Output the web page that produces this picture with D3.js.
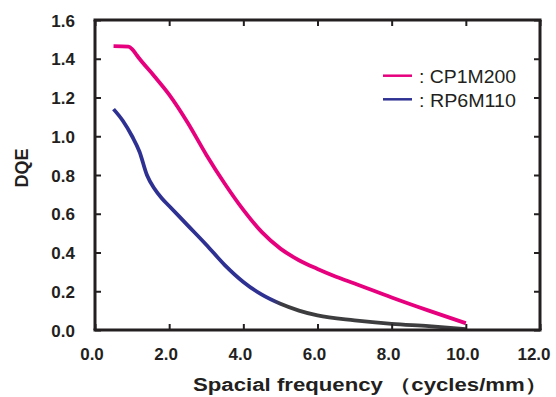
<!DOCTYPE html>
<html><head><meta charset="utf-8">
<script src="https://cdn.jsdelivr.net/npm/d3@7"></script>
<style>body{margin:0;background:#fff}svg{display:block}</style>
</head><body>
<script>
const xTicks = [0, 2, 4, 6, 8, 10, 12];
const yTicks = [0, 0.2, 0.4, 0.6, 0.8, 1.0, 1.2, 1.4, 1.6];
const cpX = [0.5, 0.9, 1.0, 1.1, 1.2, 1.6, 2.0, 2.5, 3.0, 3.5, 4.0, 4.5, 5.0, 5.5, 6.0, 6.5, 7.0, 8.0, 9.0, 10.0];
const cpY = [1.465, 1.463, 1.45, 1.425, 1.40, 1.31, 1.215, 1.07, 0.905, 0.755, 0.62, 0.505, 0.42, 0.36, 0.315, 0.275, 0.24, 0.168, 0.10, 0.035];
const rpX = [0.5, 0.75, 1.0, 1.2, 1.4, 1.6, 1.8, 2.0, 2.5, 3.0, 3.5, 4.0, 4.5, 5.0, 5.5, 6.0, 7.0, 8.0, 9.0, 10.0];
const rpY = [1.14, 1.08, 1.00, 0.92, 0.80, 0.73, 0.68, 0.64, 0.54, 0.44, 0.335, 0.248, 0.182, 0.135, 0.10, 0.075, 0.05, 0.032, 0.02, 0.005];
const seriesNames = [": CP1M200", ": RP6M110"];
const colors = ["#e6007e", "#2e3192"];
const tailColor = "#3d3d3f";

(function () {
const W = 556, H = 397;
const svg = d3.select("body").append("svg").attr("width", W).attr("height", H);
const x = d3.scaleLinear().domain([0, 12]).range([95, 540]);
const y = d3.scaleLinear().domain([0, 1.6]).range([330, 20]);
const axisCol = "#231f20";
const font = "'Liberation Sans', Arial, sans-serif";

const defs = svg.append("defs");
const g = defs.append("linearGradient").attr("id", "rpGrad")
  .attr("gradientUnits", "userSpaceOnUse")
  .attr("x1", x(0)).attr("x2", x(12)).attr("y1", 0).attr("y2", 0);
g.append("stop").attr("offset", (4.75 / 12)).attr("stop-color", colors[1]);
g.append("stop").attr("offset", (5.05 / 12)).attr("stop-color", tailColor);

const line = d3.line().x(d => x(d[0])).y(d => y(d[1])).curve(d3.curveMonotoneX);
svg.append("path").datum(rpX.map((v, i) => [v, rpY[i]]))
  .attr("d", line).attr("fill", "none").attr("stroke", "url(#rpGrad)")
  .attr("stroke-width", 3.8).attr("stroke-linecap", "butt");
svg.append("path").datum(cpX.map((v, i) => [v, cpY[i]]))
  .attr("d", line).attr("fill", "none").attr("stroke", colors[0])
  .attr("stroke-width", 3.8).attr("stroke-linecap", "butt");

const tl = 6;
const axB = svg.append("g").attr("transform", `translate(0,${y(0)})`)
  .call(d3.axisBottom(x).tickValues(xTicks).tickSize(-tl).tickPadding(18).tickFormat(d3.format(".1f")));
const axT = svg.append("g").attr("transform", `translate(0,${y(1.6)})`)
  .call(d3.axisTop(x).tickValues(xTicks).tickSize(-tl).tickFormat(""));
const axL = svg.append("g").attr("transform", `translate(${x(0)},0)`)
  .call(d3.axisLeft(y).tickValues(yTicks).tickSize(-tl).tickPadding(20).tickFormat(d3.format(".1f")));
const axR = svg.append("g").attr("transform", `translate(${x(12)},0)`)
  .call(d3.axisRight(y).tickValues(yTicks).tickSize(-tl).tickFormat(""));
[axB, axT, axL, axR].forEach(a => {
  a.select(".domain").attr("stroke", axisCol).attr("stroke-width", 3);
  a.selectAll(".tick line").attr("stroke", axisCol).attr("stroke-width", 2);
  a.selectAll("text").attr("fill", "#231f20").attr("font-family", font)
    .attr("font-weight", "bold").attr("font-size", 17);
});
axB.select(".domain").attr("d", `M${x(0)-1.5},0H${x(12)+1.5}`);
axT.select(".domain").attr("d", `M${x(0)-1.5},0H${x(12)+1.5}`);
axL.select(".domain").attr("d", `M0,${y(0)}V${y(1.6)}`);
axR.select(".domain").attr("d", `M0,${y(0)}V${y(1.6)}`);
axB.selectAll(".tick text").attr("dx", d => d === 12 ? -6.5 : -3.5);
axL.selectAll(".tick text").attr("dy", "0.36em");

svg.append("text").attr("x", 193).attr("y", 391).attr("text-anchor", "start")
  .attr("font-family", font).attr("font-weight", "bold").attr("font-size", 18).attr("fill", "#231f20")
  .attr("textLength", 354).attr("lengthAdjust", "spacingAndGlyphs")
  .text("Spacial frequency （cycles/mm）");
svg.append("text").attr("transform", `translate(28,168) rotate(-90)`).attr("text-anchor", "middle")
  .attr("font-family", font).attr("font-weight", "bold").attr("font-size", 18).attr("fill", "#231f20")
  .text("DQE");

const leg = svg.append("g");
seriesNames.forEach((n, i) => {
  const yy = 75.7 + i * 23.6;
  leg.append("line").attr("x1", 383).attr("x2", 412).attr("y1", yy).attr("y2", yy)
    .attr("stroke", colors[i]).attr("stroke-width", 2.5);
  leg.append("text").attr("x", 419).attr("y", yy + 7.6).attr("font-family", font)
    .attr("font-size", 18).attr("fill", "#231f20")
    .attr("textLength", 97).attr("lengthAdjust", "spacingAndGlyphs").text(n);
});
})();
</script>
</body></html>
